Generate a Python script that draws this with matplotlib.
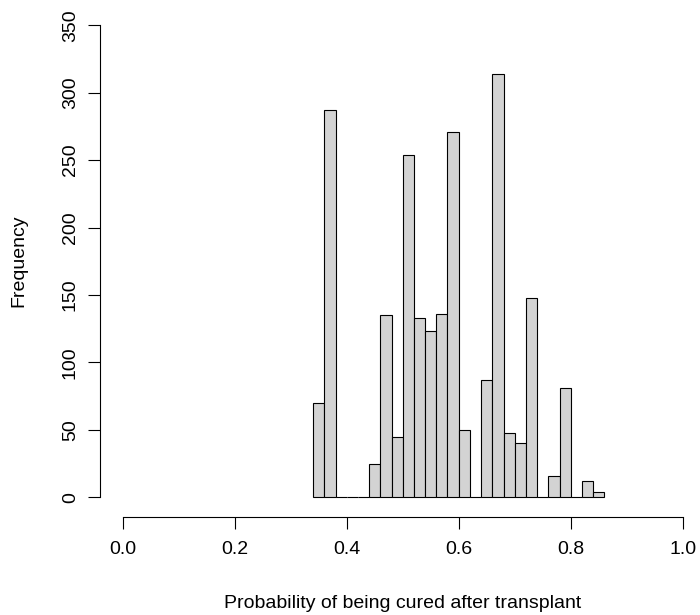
import matplotlib
matplotlib.use("Agg")
import matplotlib.pyplot as plt
import numpy as np

plt.rcParams['font.family'] = ['Liberation Sans', 'DejaVu Sans']

# histogram bins (width 0.02) and counts
bin_edges = [round(0.34 + 0.02 * i, 2) for i in range(27)]
counts = [70, 287, 0, 0, 0, 25, 135, 45, 254, 133, 123, 136, 271, 50, 0,
          87, 314, 48, 40, 148, 0, 16, 81, 0, 12, 4]
x_ticks = [0.0, 0.2, 0.4, 0.6, 0.8, 1.0]
x_tick_labels = ['0.0', '0.2', '0.4', '0.6', '0.8', '1.0']
y_ticks = [0, 50, 100, 150, 200, 250, 300, 350]

W, H = 700, 615
fig = plt.figure(figsize=(W / 100, H / 100), dpi=100)
ax = fig.add_axes([122.7 / W, (H - 497.3) / H, 560 / W, 472 / H])

lefts = np.array(bin_edges[:-1])
widths = np.diff(bin_edges)
ax.bar(lefts, counts, width=widths, align='edge', color='#D3D3D3',
       edgecolor='black', linewidth=0.8, clip_on=False)

ax.set_xlim(0, 1)
ax.set_ylim(0, 350)

for s in ['top', 'right']:
    ax.spines[s].set_visible(False)
ax.spines['left'].set_position(('outward', 16))
ax.spines['bottom'].set_position(('outward', 14))
ax.spines['left'].set_bounds(0, 350)
ax.spines['bottom'].set_bounds(0, 1)
ax.spines['left'].set_linewidth(0.8)
ax.spines['bottom'].set_linewidth(0.8)

ax.set_xticks(x_ticks)
ax.set_xticklabels(x_tick_labels)
ax.set_yticks(y_ticks)
ax.set_yticklabels([str(v) for v in y_ticks], rotation=90, va='center')
ax.tick_params(axis='both', length=8.5, width=0.8, labelsize=14, colors='black')
ax.tick_params(axis='x', pad=9)
ax.tick_params(axis='y', pad=7)

fig.text(19 / W, 1 - 261 / H, 'Frequency', rotation=90, ha='center',
         va='center', fontsize=14)
fig.text(403 / W, 1 - 603 / H, 'Probability of being cured after transplant',
         ha='center', va='center', fontsize=14)

fig.savefig('out.png', dpi=100)
